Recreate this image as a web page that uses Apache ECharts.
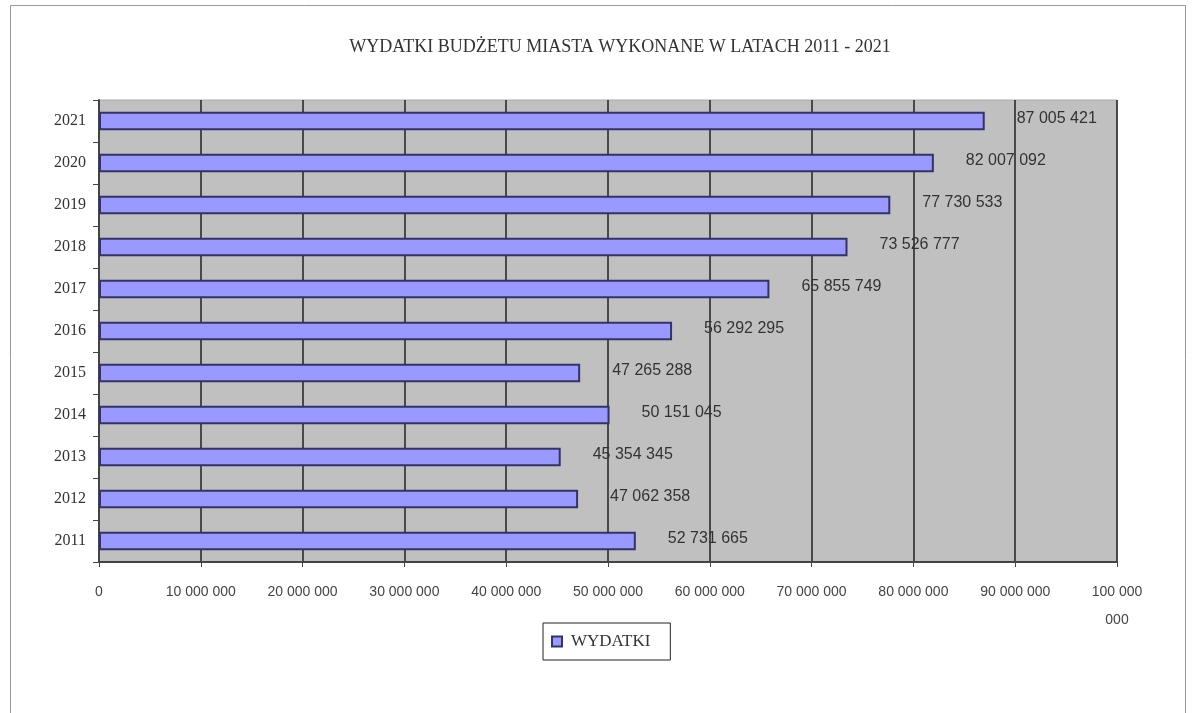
<!DOCTYPE html>
<html><head><meta charset="utf-8">
<script src="https://cdn.jsdelivr.net/npm/echarts@6/dist/echarts.min.js"></script>
<style>html,body{margin:0;padding:0;background:#fff}#c{width:1196px;height:713px}</style>
</head><body><div id="c"></div>
<script>
const years = ['2011','2012','2013','2014','2015','2016','2017','2018','2019','2020','2021'];
const wydatki = [52731665,47062358,45354345,50151045,47265288,56292295,65855749,73526777,77730533,82007092,87005421];
const seriesName = 'WYDATKI';
const titleText = 'WYDATKI BUDŻETU MIASTA WYKONANE W LATACH 2011 - 2021';

function fmt(v){
  const s = String(Math.round(v)).replace(/\B(?=(\d{3})+(?!\d))/g,' ');
  if (v >= 100000000) return '100 000\n000';
  return s;
}
const chart = echarts.init(document.getElementById('c'));
chart.setOption({
  animation:false,
  backgroundColor:'#fff',
  graphic:[{type:'rect',shape:{x:10.5,y:5.5,width:1175,height:720},style:{fill:'none',stroke:'#999',lineWidth:1},z:-1}],
  title:{text:titleText,left:615,top:33,textAlign:'center',
    textStyle:{fontFamily:'Liberation Serif',fontSize:18,fontWeight:'normal',color:'#333',letterSpacing:-0.6}},
  legend:{data:[seriesName],left:543,top:623,orient:'horizontal',
    padding:[10,20,10,8],borderColor:'#222',borderWidth:1,itemWidth:10,itemHeight:10,itemGap:8,
    icon:'rect',
    textStyle:{fontFamily:'Liberation Serif',fontSize:17,color:'#333',padding:[0,0,0,4]}},
  grid:{left:99,right:79,top:100,bottom:151,show:true,backgroundColor:'#c0c0c0',borderColor:'#aaa',borderWidth:1},
  xAxis:{type:'value',min:0,max:100000000,interval:10000000,
    axisLine:{show:true,lineStyle:{color:'#444',width:2}},
    axisTick:{show:true,length:5,lineStyle:{color:'#444'}},
    splitLine:{show:true,lineStyle:{color:'#222',width:1.5}},
    axisLabel:{formatter:fmt,margin:16,fontFamily:'Liberation Sans',fontSize:14,color:'#444',lineHeight:28,letterSpacing:-0.3}},
  yAxis:{type:'category',data:years,
    axisLine:{show:true,lineStyle:{color:'#444',width:2}},
    axisTick:{show:true,length:6,alignWithLabel:false,lineStyle:{color:'#444'}},
    axisLabel:{margin:13,fontFamily:'Liberation Serif',fontSize:16,color:'#333'}},
  series:[{name:seriesName,type:'bar',data:wydatki,barWidth:'44%',
    itemStyle:{color:'#9999ff',borderColor:'#333366',borderWidth:2},
    label:{show:true,position:'right',distance:32,formatter:p=>fmt(p.value),
      fontFamily:'Liberation Sans',fontSize:16,color:'#333',offset:[0,-2],letterSpacing:-0.4}}]
});
</script></body></html>
